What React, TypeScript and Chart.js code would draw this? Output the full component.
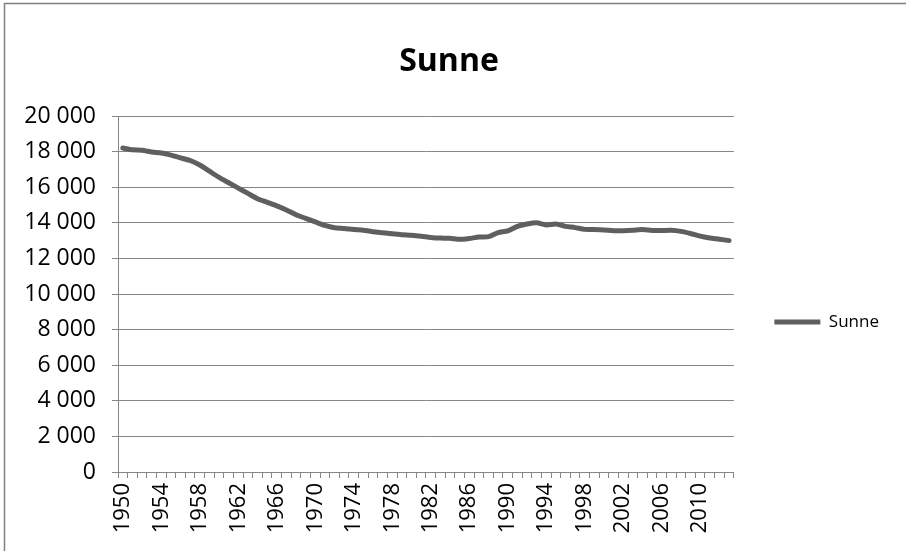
import React, { useEffect, useRef } from "react";
import { Chart, registerables } from "chart.js";

Chart.register(...registerables);

const FONT = "Open Sans";

const years: string[] = [
  "1950", "1951", "1952", "1953", "1954", "1955", "1956", "1957", "1958", "1959",
  "1960", "1961", "1962", "1963", "1964", "1965", "1966", "1967", "1968", "1969",
  "1970", "1971", "1972", "1973", "1974", "1975", "1976", "1977", "1978", "1979",
  "1980", "1981", "1982", "1983", "1984", "1985", "1986", "1987", "1988", "1989",
  "1990", "1991", "1992", "1993", "1994", "1995", "1996", "1997", "1998", "1999",
  "2000", "2001", "2002", "2003", "2004", "2005", "2006", "2007", "2008", "2009",
  "2010", "2011", "2012", "2013",
];

const sunne: number[] = [
  18200, 18100, 18080, 17980, 17920, 17800, 17650, 17500, 17250, 16900,
  16550, 16250, 15950, 15650, 15350, 15150, 14950, 14720, 14450, 14250,
  14050, 13850, 13720, 13680, 13620, 13580, 13500, 13440, 13380, 13330,
  13300, 13250, 13180, 13140, 13130, 13070, 13120, 13200, 13220, 13450,
  13540, 13800, 13930, 14000, 13880, 13930, 13800, 13730, 13630, 13620,
  13600, 13560, 13560, 13580, 13620, 13570, 13570, 13580, 13520, 13400,
  13250, 13150, 13080, 13000,
];

const seriesName = "Sunne";
const chartTitle = "Sunne";
const yMin = 0;
const yMax = 20000;
const yStep = 2000;
const labelEvery = 4;

const fmt = (v: number) => String(v).replace(/\B(?=(\d{3})+(?!\d))/g, " ");

const framePlugin = {
  id: "frame",
  beforeDraw(chart: any) {
    const ctx = chart.ctx;
    ctx.save();
    ctx.fillStyle = "#ffffff";
    ctx.fillRect(0, 0, chart.width, chart.height);
    ctx.strokeStyle = "#808080";
    ctx.lineWidth = 1.5;
    ctx.beginPath();
    ctx.moveTo(4.5, chart.height + 2);
    ctx.lineTo(4.5, 3.5);
    ctx.lineTo(chart.width + 2, 3.5);
    ctx.stroke();
    ctx.restore();
  },
};

export default function App() {
  const ref = useRef<HTMLCanvasElement | null>(null);

  useEffect(() => {
    if (!ref.current) return;
    const chart = new Chart(ref.current, {
      type: "line",
      data: {
        labels: years,
        datasets: [
          {
            label: seriesName,
            data: sunne,
            borderColor: "#5f5f5f",
            backgroundColor: "#5f5f5f",
            borderWidth: 5,
            borderCapStyle: "round",
            borderJoinStyle: "round",
            pointRadius: 0,
            tension: 0.2,
          },
        ],
      },
      options: {
        responsive: false,
        animation: false,
        layout: { padding: { left: 9, right: 17, top: 0, bottom: 0 } },
        plugins: {
          title: {
            display: true,
            text: chartTitle,
            color: "#000000",
            font: { family: FONT, size: 32, weight: "bold" },
            padding: { top: 42.8, bottom: 34.8 },
          },
          legend: {
            position: "right",
            title: {
              display: true,
              text: "",
              font: { size: 12 },
              padding: { top: 0, bottom: 78.6 },
            },
            labels: {
              usePointStyle: true,
              pointStyle: "line",
              pointStyleWidth: 46,
              padding: 40.5,
              color: "#000000",
              font: { family: FONT, size: 17 },
            },
          },
          tooltip: { enabled: false },
        },
        scales: {
          x: {
            offset: true,
            afterFit: (s: any) => {
              s.height = 79;
            },
            grid: {
              drawOnChartArea: false,
              offset: true,
              tickLength: 6,
              color: "#868686",
            },
            border: { color: "#868686" },
            ticks: {
              autoSkip: false,
              minRotation: 90,
              maxRotation: 90,
              padding: 5,
              color: "#000000",
              font: { family: FONT, size: 22 },
              callback: (_v: any, i: number) => (i % labelEvery === 0 ? years[i] : ""),
            },
          },
          y: {
            min: yMin,
            max: yMax,
            afterFit: (s: any) => {
              s.width = 109;
            },
            grid: { color: "#868686", tickLength: 6 },
            border: { color: "#868686" },
            ticks: {
              stepSize: yStep,
              padding: 16,
              color: "#000000",
              font: { family: FONT, size: 23 },
              callback: (v: any) => fmt(Number(v)),
            },
          },
        },
      },
      plugins: [framePlugin],
    });
    return () => chart.destroy();
  }, []);

  return (
    <div style={{ position: "fixed", left: 0, top: 0, width: 906, height: 551, overflow: "hidden", background: "#fff" }}>
      <canvas ref={ref} width={906} height={551} />
    </div>
  );
}
